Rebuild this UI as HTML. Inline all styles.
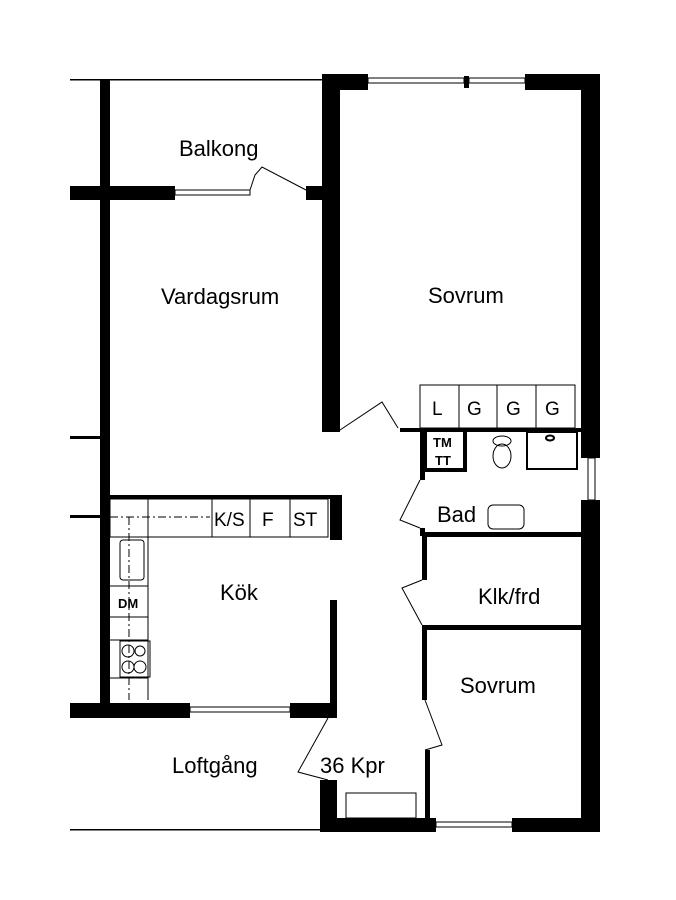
<!DOCTYPE html>
<html><head><meta charset="utf-8"><style>body{margin:0;background:#fff}svg{display:block}text{font-family:"Liberation Sans",sans-serif;fill:#000}</style></head><body>
<svg width="676" height="900" viewBox="0 0 676 900" xmlns="http://www.w3.org/2000/svg">
<rect width="676" height="900" fill="#fff"/>
<g fill="#000">
<!-- top -->
<rect x="70" y="79" width="252" height="1.5"/>
<rect x="100" y="79" width="10" height="637"/>
<rect x="70" y="186" width="105" height="14"/>
<rect x="306" y="186" width="18" height="14"/>
<rect x="322" y="74" width="18" height="358"/>
<rect x="322" y="74" width="46" height="16"/>
<rect x="525" y="74" width="75" height="16"/>
<rect x="464" y="76" width="5" height="12"/>
<rect x="581" y="74" width="19" height="384"/>
<rect x="581" y="500" width="19" height="332"/>
<!-- left stubs -->
<rect x="70" y="436" width="30" height="3"/>
<rect x="70" y="515" width="30" height="3"/>
<!-- bathroom -->
<rect x="400" y="428" width="181" height="4"/>
<rect x="420" y="428" width="5" height="52"/>
<rect x="420" y="528" width="5" height="8"/>
<rect x="422" y="532" width="159" height="5"/>
<rect x="422" y="537" width="5" height="43"/>
<rect x="422" y="625" width="159" height="5"/>
<rect x="422" y="625" width="5" height="75"/>
<rect x="425" y="750" width="5" height="70"/>
<!-- bottom -->
<rect x="320" y="818" width="116" height="14"/>
<rect x="512" y="818" width="88" height="14"/>
<rect x="320" y="780" width="17" height="52"/>
<rect x="70" y="829" width="250" height="1.5"/>
<!-- kitchen -->
<rect x="110" y="495" width="222" height="4"/>
<rect x="330" y="495" width="12" height="45"/>
<rect x="330" y="600" width="7" height="118"/>
<rect x="70" y="703" width="120" height="15"/>
<rect x="290" y="703" width="47" height="15"/>
</g>
<g fill="none" stroke="#000" stroke-width="1">
<!-- windows -->
<rect x="175" y="190" width="75" height="5"/>
<rect x="368" y="78" width="96" height="5"/>
<rect x="469" y="78" width="56" height="5"/>
<rect x="588" y="458" width="7" height="42"/>
<rect x="190" y="707" width="100" height="5"/>
<rect x="436" y="822" width="76" height="5"/>
<!-- doors -->
<polyline points="250,190 255,175 262,167 306,190"/>
<polyline points="340,430 382,402 398,428"/>
<polyline points="420,480 400,520 420,528"/>
<polyline points="422,580 402,588 422,625"/>
<polyline points="425,700 442,745 425,750"/>
<polyline points="328,718 298,772 328,780"/>
<!-- wardrobes -->
<rect x="420" y="385" width="155" height="43"/>
<line x1="459" y1="385" x2="459" y2="428"/><line x1="497" y1="385" x2="497" y2="428"/><line x1="536" y1="385" x2="536" y2="428"/>
<!-- bath fixtures -->
<rect x="527" y="432" width="50" height="37" stroke-width="2"/>
<ellipse cx="550" cy="438" rx="4" ry="2.5" stroke-width="2"/>
<ellipse cx="502" cy="456" rx="9" ry="12"/>
<ellipse cx="502" cy="441" rx="9" ry="5"/>
<rect x="488" y="505" width="36" height="24" rx="5"/>
<!-- kitchen counter -->
<rect x="110" y="499" width="218" height="38"/>
<line x1="148" y1="537" x2="148" y2="700"/>
<line x1="212" y1="499" x2="212" y2="537"/><line x1="250" y1="499" x2="250" y2="537"/><line x1="290" y1="499" x2="290" y2="537"/>
<line x1="148" y1="499" x2="148" y2="537"/>
<line x1="110" y1="586" x2="148" y2="586"/><line x1="110" y1="617" x2="148" y2="617"/>
<line x1="110" y1="640" x2="148" y2="640"/><line x1="110" y1="678" x2="148" y2="678"/>
<rect x="120" y="540" width="24" height="40" rx="3"/>
<rect x="120" y="641" width="30" height="36"/>
<circle cx="128" cy="651" r="6"/><circle cx="140" cy="651" r="5"/><circle cx="128" cy="667" r="6"/><circle cx="140" cy="667" r="6"/>
<line x1="110" y1="517" x2="210" y2="517" stroke-dasharray="8,3,2,3"/>
<line x1="129" y1="517" x2="129" y2="700" stroke-dasharray="8,3,2,3"/>
<rect x="346" y="793" width="70" height="25"/>
</g>
<rect x="425" y="430" width="40" height="40" fill="none" stroke="#000" stroke-width="4"/>
<g font-size="22">
<text x="179" y="156">Balkong</text>
<text x="161" y="304">Vardagsrum</text>
<text x="428" y="303">Sovrum</text>
<text x="220" y="600">Kök</text>
<text x="437" y="522">Bad</text>
<text x="478" y="604">Klk/frd</text>
<text x="460" y="693">Sovrum</text>
<text x="172" y="773">Loftgång</text>
<text x="320" y="773">36 Kpr</text>
</g>
<g font-size="19">
<text x="432" y="415">L</text><text x="467" y="415">G</text><text x="506" y="415">G</text><text x="545" y="415">G</text>
<text x="214" y="526">K/S</text><text x="262" y="526">F</text><text x="293" y="526">ST</text>
</g>
<g font-size="13" font-weight="bold">
<text x="433" y="447">TM</text><text x="435" y="465">TT</text>
<text x="118" y="608">DM</text>
</g>
</svg>
</body></html>
